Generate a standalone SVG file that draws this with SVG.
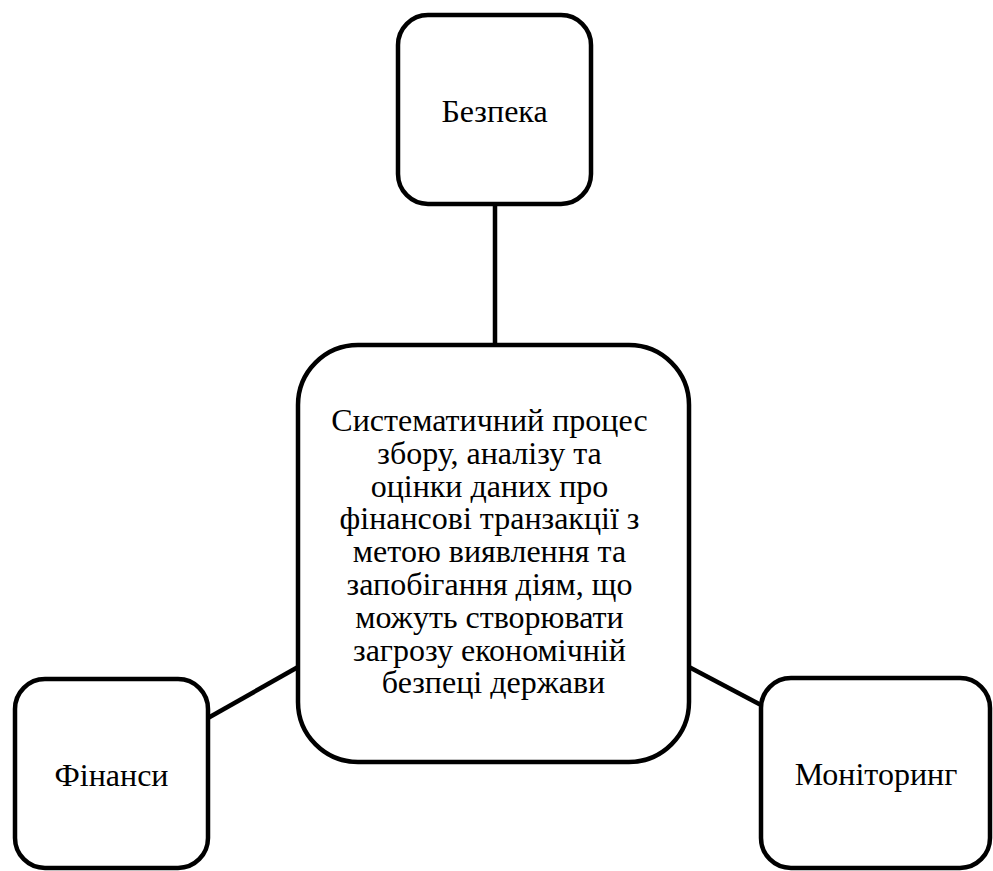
<svg xmlns="http://www.w3.org/2000/svg" width="993" height="871" viewBox="0 0 993 871">
<style>
.box{fill:#fff;stroke:#000;stroke-width:4.5}
.lbl{font-family:"Liberation Serif","Times New Roman",serif;font-size:32px;fill:#000;text-anchor:middle}
.conn line{stroke:#000;stroke-width:4.5}
</style>
<rect width="993" height="871" fill="#fff"/>
<g id="connectors" class="conn">
<line x1="495" y1="204" x2="495" y2="345"/>
<line x1="208" y1="718" x2="298" y2="667"/>
<line x1="689" y1="667" x2="761" y2="705"/>
</g>
<g id="node-bezpeka">
<rect class="box" x="398" y="15" width="193" height="189" rx="30"/>
<text class="lbl" x="494.5" y="122">Безпека</text>
</g>
<g id="node-center">
<rect class="box" x="298" y="345" width="391" height="417" rx="60"/>
<text class="lbl" x="493.5" y="431">
<tspan x="493.5" y="431">Систематичний процес</tspan>
<tspan x="493.5" y="463.8">збору, аналізу та</tspan>
<tspan x="493.5" y="496.6">оцінки даних про</tspan>
<tspan x="493.5" y="529.4">фінансові транзакції з</tspan>
<tspan x="493.5" y="562.2">метою виявлення та</tspan>
<tspan x="493.5" y="595">запобігання діям, що</tspan>
<tspan x="493.5" y="627.8">можуть створювати</tspan>
<tspan x="493.5" y="660.6">загрозу економічній</tspan>
<tspan x="493.5" y="693.4">безпеці держави</tspan>
</text>
</g>
<g id="node-finansy">
<rect class="box" x="15" y="679" width="193" height="189" rx="30"/>
<text class="lbl" x="111.5" y="786">Фінанси</text>
</g>
<g id="node-monitoring">
<rect class="box" x="761" y="678" width="229" height="190" rx="30"/>
<text class="lbl" x="876" y="785">Моніторинг</text>
</g>
</svg>
